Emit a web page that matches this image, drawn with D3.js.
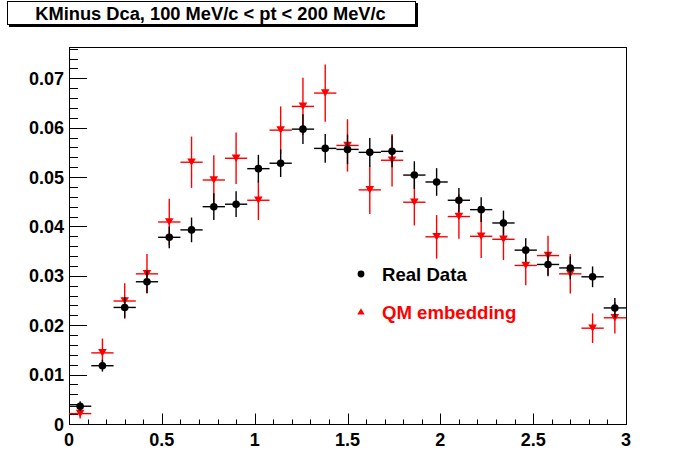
<!DOCTYPE html>
<html><head><meta charset="utf-8">
<script src="https://cdn.jsdelivr.net/npm/d3@7"></script>
<style>html,body{margin:0;padding:0;background:#fff;}svg{display:block;}</style>
</head><body>
<script>
const titleText = "KMinus Dca, 100 MeV/c < pt < 200 MeV/c";
const binCenters = [0.06,0.18,0.30,0.42,0.54,0.66,0.78,0.90,1.02,1.14,1.26,1.38,1.50,1.62,1.74,1.86,1.98,2.10,2.22,2.34,2.46,2.58,2.70,2.82,2.94];
const binHalfWidth = 0.06;
const realData = [0.0036,0.0118,0.0236,0.0288,0.0378,0.0393,0.0440,0.0445,0.0517,0.0528,0.0597,0.0558,0.0556,0.0550,0.0552,0.0504,0.0490,0.0453,0.0434,0.0407,0.0352,0.0323,0.0316,0.0298,0.0235];
const realErr = [0.0010,0.0012,0.0021,0.0023,0.0022,0.0025,0.0027,0.0026,0.0028,0.0028,0.0030,0.0029,0.0030,0.0029,0.0032,0.0028,0.0028,0.0025,0.0025,0.0025,0.0024,0.0024,0.0023,0.0021,0.0020];
const qmData = [0.0021,0.0144,0.0249,0.0304,0.0409,0.0530,0.0494,0.0538,0.0453,0.0595,0.0643,0.0670,0.0564,0.0474,0.0534,0.0449,0.0379,0.0420,0.0380,0.0374,0.0321,0.0341,0.0304,0.0194,0.0215];
const qmErr = [0.0010,0.0029,0.0036,0.0040,0.0047,0.0052,0.0050,0.0052,0.0040,0.0048,0.0058,0.0058,0.0053,0.0049,0.0053,0.0047,0.0044,0.0045,0.0044,0.0042,0.0040,0.0040,0.0040,0.0030,0.0032];
const xTicks = [0,0.5,1,1.5,2,2.5,3];
const xTickLabels = ["0","0.5","1","1.5","2","2.5","3"];
const yTicks = [0,0.01,0.02,0.03,0.04,0.05,0.06,0.07];
const yTickLabels = ["0","0.01","0.02","0.03","0.04","0.05","0.06","0.07"];
const legendLabels = ["Real Data","QM embedding"];
const seriesColors = ["#000000","#ff0000"];

const W = 696, H = 472;
const L = 69, R = 626, T = 47, B = 424;
const FONT = "'Liberation Sans', Arial, Helvetica, sans-serif";

const svg = d3.select("body").append("svg").attr("width", W).attr("height", H)
  .style("font-family", FONT);
svg.append("rect").attr("width", W).attr("height", H).attr("fill", "#fff");

const x = d3.scaleLinear().domain([0, 3]).range([L, R]);
const y = d3.scaleLinear().domain([0, 0.07633]).range([B, T]);

// frame
svg.append("rect").attr("x", L + 0.5).attr("y", T + 0.5).attr("width", R - L).attr("height", B - T)
  .attr("fill", "#fff").attr("stroke", "#000").attr("stroke-width", 1);

// x axis
const xMinor = d3.range(0, 3.0001, 0.1);
const gx = svg.append("g").attr("transform", `translate(0,${B + 0.5})`);
gx.selectAll("line.minor").data(xMinor).join("line")
  .attr("x1", d => Math.round(x(d)) + 0.5).attr("x2", d => Math.round(x(d)) + 0.5)
  .attr("y1", 0).attr("y2", -5).attr("stroke", "#000");
gx.selectAll("line.major").data(xTicks).join("line")
  .attr("x1", d => Math.round(x(d)) + 0.5).attr("x2", d => Math.round(x(d)) + 0.5)
  .attr("y1", 0).attr("y2", -11).attr("stroke", "#000");
svg.append("line").attr("x1", L).attr("x2", R + 1).attr("y1", B + 0.5).attr("y2", B + 0.5).attr("stroke", "#000");
svg.selectAll("text.xl").data(xTicks).join("text")
  .attr("x", d => x(d)).attr("y", 445.5).attr("text-anchor", "middle")
  .attr("font-size", 18).attr("font-weight", "bold").text((d, i) => xTickLabels[i]);

// y axis
const yMinor = d3.range(0, 0.0763, 0.002);
svg.selectAll("line.ymin").data(yMinor).join("line")
  .attr("x1", L + 0.5).attr("x2", L + 9)
  .attr("y1", d => Math.round(y(d)) + 0.5).attr("y2", d => Math.round(y(d)) + 0.5).attr("stroke", "#000");
svg.selectAll("line.ymaj").data(yTicks).join("line")
  .attr("x1", L + 0.5).attr("x2", L + 18)
  .attr("y1", d => Math.round(y(d)) + 0.5).attr("y2", d => Math.round(y(d)) + 0.5).attr("stroke", "#000");
svg.append("line").attr("x1", L + 0.5).attr("x2", L + 0.5).attr("y1", T).attr("y2", B + 1).attr("stroke", "#000");
svg.selectAll("text.yl").data(yTicks).join("text")
  .attr("x", 64).attr("y", d => y(d) + 6.5).attr("text-anchor", "end")
  .attr("font-size", 18).attr("font-weight", "bold").text((d, i) => yTickLabels[i]);

// series drawing
function drawSeries(vals, errs, color, marker) {
  const g = svg.append("g");
  const pts = binCenters.map((c, i) => ({c, v: vals[i], e: errs[i]}));
  g.selectAll("line.h").data(pts).join("line")
    .attr("x1", d => x(d.c - binHalfWidth)).attr("x2", d => x(d.c + binHalfWidth))
    .attr("y1", d => y(d.v)).attr("y2", d => y(d.v))
    .attr("stroke", color).attr("stroke-width", 1.4);
  g.selectAll("line.v").data(pts).join("line")
    .attr("x1", d => x(d.c)).attr("x2", d => x(d.c))
    .attr("y1", d => y(d.v - d.e)).attr("y2", d => y(d.v + d.e))
    .attr("stroke", color).attr("stroke-width", 1.4);
  if (marker === "circle") {
    g.selectAll("circle").data(pts).join("circle")
      .attr("cx", d => x(d.c)).attr("cy", d => y(d.v)).attr("r", 3.8).attr("fill", color);
  } else {
    g.selectAll("path").data(pts).join("path")
      .attr("d", d => {
        const cx = x(d.c), cy = y(d.v);
        return `M${cx - 4.3},${cy - 3.8}L${cx + 4.3},${cy - 3.8}L${cx},${cy + 3.6}Z`;
      }).attr("fill", color);
  }
}
drawSeries(qmData, qmErr, seriesColors[1], "tri");
drawSeries(realData, realErr, seriesColors[0], "circle");

// legend
svg.append("circle").attr("cx", 361).attr("cy", 274).attr("r", 3.4).attr("fill", seriesColors[0]);
svg.append("path").attr("d", "M357.3,314.5L364.7,314.5L361,308.3Z").attr("fill", seriesColors[1]);
svg.append("text").attr("x", 382).attr("y", 280.5).attr("font-size", 18.6).attr("font-weight", "bold")
  .attr("fill", seriesColors[0]).text(legendLabels[0]);
svg.append("text").attr("x", 382).attr("y", 318.5).attr("font-size", 18.6).attr("font-weight", "bold")
  .attr("fill", seriesColors[1]).text(legendLabels[1]);

// title box with shadow
svg.append("rect").attr("x", 9).attr("y", 3).attr("width", 409).attr("height", 24).attr("fill", "#000");
svg.append("rect").attr("x", 7.5).attr("y", 1.5).attr("width", 408).attr("height", 23)
  .attr("fill", "#fff").attr("stroke", "#000").attr("stroke-width", 1);
svg.append("text").attr("x", 210.5).attr("y", 20).attr("text-anchor", "middle")
  .attr("font-size", 18.3).attr("font-weight", "bold").text(titleText);
</script>
</body></html>
